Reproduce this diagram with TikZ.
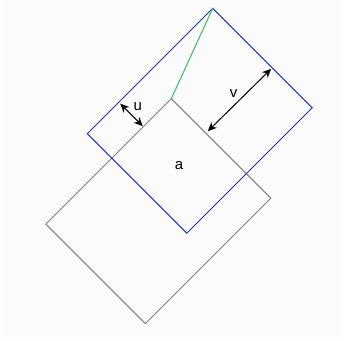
\documentclass[tikz,border=0pt]{standalone}
\usepackage{fontspec}
\setmainfont{Liberation Sans}
\usetikzlibrary{arrows.meta}
\definecolor{bluecol}{HTML}{2438A8}
\definecolor{greencol}{HTML}{3CB96A}
\definecolor{graycol}{HTML}{808080}
\definecolor{bgcol}{HTML}{FBFBFB}
\begin{document}
\begin{tikzpicture}[x=1pt,y=-1pt,
  bluerect/.style={draw=bluecol,line width=1pt,line join=miter},
  grayrect/.style={draw=graycol,line width=1pt,line join=miter},
  diag/.style={draw=greencol,line width=1pt},
  dim/.style={draw=black,line width=1pt,{Stealth[length=9pt,width=8pt]}-{Stealth[length=9pt,width=8pt]}},
  lbl/.style={font=\fontsize{15}{17}\selectfont,inner sep=0pt}]
\useasboundingbox (0,0) rectangle (344,340);
\fill[white] (0,0) rectangle (344,340);
\fill[bgcol] (3,0) rectangle (341,337);
% blue rectangle
\coordinate (BT) at (212.7,8.3);
\coordinate (BR) at (312.2,107.8);
\coordinate (BB) at (186.8,233.2);
\coordinate (BL) at (87.3,133.7);
% gray rectangle
\coordinate (GT) at (171.3,98.7);
\coordinate (GR) at (270.8,198.2);
\coordinate (GB) at (145.4,323.6);
\coordinate (GL) at (45.9,224.1);
\draw[grayrect] (GT) -- (GR) -- (GB) -- (GL) -- cycle;
\draw[bluerect] (BT) -- (BR) -- (BB) -- (BL) -- cycle;
\draw[diag] (BT) -- (GT);
% dimension arrows
\coordinate (U1) at (120.2,103.6);
\coordinate (U2) at (142.8,126.2);
\coordinate (V1) at (271.2,68.8);
\coordinate (V2) at (207.8,131.2);
\draw[dim] (U1) -- (U2);
\draw[dim] (V1) -- (V2);
\node[lbl] (u) at (137.7,106.5) {u};
\node[lbl] (v) at (233.7,93.5) {v};
\node[lbl] (a) at (179,166) {a};
\end{tikzpicture}
\end{document}
